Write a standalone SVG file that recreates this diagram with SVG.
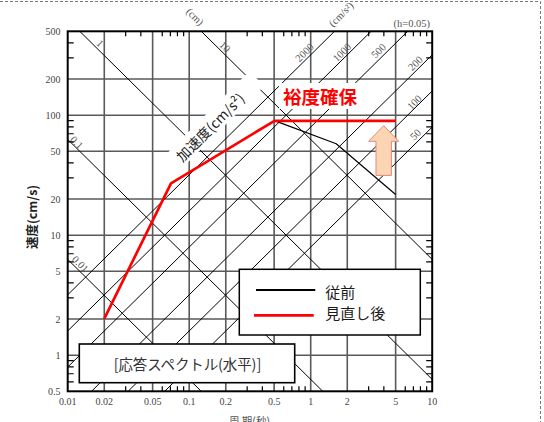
<svg xmlns="http://www.w3.org/2000/svg" width="544" height="422" viewBox="0 0 544 422">
<style>
.grid{stroke:#5a5a5a;stroke-width:1.6;fill:none}
.diag{stroke:#000;stroke-width:1;fill:none}
.tick{stroke:#000;stroke-width:1.2;fill:none}
.num{font-family:"Liberation Serif","Times New Roman",serif;font-size:10px;fill:#444}
.lbl{font-family:"Liberation Serif","Times New Roman",serif;font-size:10.5px;fill:#555}
.jp{font-family:"Noto Sans CJK JP","Noto Sans",sans-serif}
.wb{fill:#fff;stroke:none}
</style>
<rect width="544" height="422" fill="#fff"/>
<path d="M0 1.5H540.5V422" fill="none" stroke="#777" stroke-width="1" stroke-dasharray="3 2"/>

<g id="grid" class="grid">
<path d="M104.28 31.3V391.3M152.63 31.3V391.3M189.2 31.3V391.3M225.78 31.3V391.3M274.13 31.3V391.3M310.7 31.3V391.3M347.28 31.3V391.3M395.63 31.3V391.3"/>
<path d="M67.7 79.05H432.2M67.7 115.18H432.2M67.7 151.3H432.2M67.7 199.05H432.2M67.7 235.18H432.2M67.7 271.3H432.2M67.7 319.05H432.2M67.7 355.18H432.2"/>
</g>

<g id="connectors" class="diag">
<path d="M201.25 31.3L432.2 259.39M79.75 31.3L432.2 379.39M67.7 139.39L322.75 391.3M67.7 259.39L201.25 391.3"/>
<path d="M67.7 294.83L334.53 31.3M67.7 330.96L371.1 31.3M67.7 367.08L407.68 31.3M91.53 391.3L432.2 54.83M128.1 391.3L432.2 90.96M164.68 391.3L432.2 127.08"/>
</g>

<g id="accel-label">
<g transform="translate(168,168) rotate(-45)">
<rect class="wb" x="8" y="-11" width="118" height="21"/>
<text x="14" y="0.5" class="jp" font-size="14" fill="#222" dominant-baseline="central">加速度(cm/s²)</text>
</g>
</g>

<g id="margin-label">
<rect class="wb" x="279" y="83" width="83" height="26"/>
<text x="283" y="103.5" class="jp" font-size="18.5" font-weight="bold" fill="#f00">裕度確保</text>
</g>

<g id="line-labels" class="lbl" text-anchor="middle" dominant-baseline="central">
<text transform="translate(195,16.7) rotate(45)">(cm)</text>
<text transform="translate(100,43.3) rotate(45)">1</text>
<text transform="translate(225,46.7) rotate(45)">10</text>
<text transform="translate(76.7,142.5) rotate(45)">0.1</text>
<text transform="translate(80.3,264) rotate(45)">0.01</text>
<text transform="translate(304.5,52.5) rotate(-45)">2000</text>
<text transform="translate(342,52.5) rotate(-45)">1000</text>
<text transform="translate(378.7,50.8) rotate(-45)">500</text>
<text transform="translate(415.3,63.3) rotate(-45)">200</text>
<text transform="translate(414.5,102.5) rotate(-45)">100</text>
<text transform="translate(415.5,134.5) rotate(-45)">50</text>
<text transform="translate(330.5,25) rotate(-45)" text-anchor="start">(cm/s²)</text>
</g>
<text x="393.5" y="27" class="lbl" font-size="9.5">(h=0.05)</text>

<g id="curves" fill="none" stroke-linejoin="round">
<path d="M274.5 120.6L336.2 143.8L395.6 194.5" stroke="#000" stroke-width="1.2"/>
<path d="M104.3 318.7L171 183.3L274.5 120.8L396 120.8" stroke="#f00" stroke-width="2.7"/>
</g>

<g id="arrow">
<polygon points="383.7,125.7 398.7,141.3 391.4,141.3 391.4,175.4 376,175.4 376,141.3 368.6,141.3" fill="#fcd5b4" stroke="#e8857a" stroke-width="1"/>
</g>

<g id="frame">
<rect x="67.7" y="31.3" width="364.5" height="360" fill="none" stroke="#000" stroke-width="2"/>
<path class="tick" d="M125.67 31.3v5M140.85 31.3v5M162.25 31.3v5M170.38 31.3v5M177.43 31.3v5M183.64 31.3v5M247.17 31.3v5M262.35 31.3v5M283.75 31.3v5M291.88 31.3v5M298.93 31.3v5M305.14 31.3v5M368.67 31.3v5M383.85 31.3v5M405.25 31.3v5M413.38 31.3v5M420.43 31.3v5M426.64 31.3v5"/>
<path class="tick" d="M125.67 391.3v-5M140.85 391.3v-5M162.25 391.3v-5M170.38 391.3v-5M177.43 391.3v-5M183.64 391.3v-5M247.17 391.3v-5M262.35 391.3v-5M283.75 391.3v-5M291.88 391.3v-5M298.93 391.3v-5M305.14 391.3v-5M368.67 391.3v-5M383.85 391.3v-5M405.25 391.3v-5M413.38 391.3v-5M420.43 391.3v-5M426.64 391.3v-5"/>
<path class="tick" d="M67.7 42.93h6M67.7 57.92h6M67.7 120.67h6M67.7 126.81h6M67.7 133.76h6M67.7 141.8h6M67.7 162.93h6M67.7 177.92h6M67.7 240.67h6M67.7 246.81h6M67.7 253.76h6M67.7 261.8h6M67.7 282.93h6M67.7 297.92h6M67.7 360.67h6M67.7 366.81h6M67.7 373.76h6M67.7 381.8h6"/>
<path class="tick" d="M432.2 42.93h-6M432.2 57.92h-6M432.2 120.67h-6M432.2 126.81h-6M432.2 133.76h-6M432.2 141.8h-6M432.2 162.93h-6M432.2 177.92h-6M432.2 240.67h-6M432.2 246.81h-6M432.2 253.76h-6M432.2 261.8h-6M432.2 282.93h-6M432.2 297.92h-6M432.2 360.67h-6M432.2 366.81h-6M432.2 373.76h-6M432.2 381.8h-6"/>
</g>

<g id="legend">
<rect x="239.3" y="269.3" width="181" height="65.7" fill="#fff" stroke="#000" stroke-width="1.5"/>
<line x1="256" y1="290" x2="315.3" y2="290" stroke="#000" stroke-width="1.8"/>
<line x1="254" y1="315.3" x2="313.7" y2="315.3" stroke="#f00" stroke-width="2.7"/>
<text x="325.3" y="297.5" class="jp" font-size="15" fill="#1a1a1a">従前</text>
<text x="325.3" y="318.5" class="jp" font-size="15" fill="#1a1a1a">見直し後</text>
</g>

<g id="caption">
<rect x="79.3" y="344" width="215.4" height="38.7" fill="#fff" stroke="#000" stroke-width="1.6"/>
<text x="113.7" y="369.5" class="jp" font-size="14.5" fill="#333" textLength="147.6" lengthAdjust="spacing">[応答スペクトル(水平)]</text>
</g>

<g id="axis-labels" class="num">
<g text-anchor="end">
<text x="60.5" y="34.8">500</text>
<text x="60.5" y="82.5">200</text>
<text x="60.5" y="118.7">100</text>
<text x="60.5" y="154.8">50</text>
<text x="60.5" y="202.5">20</text>
<text x="60.5" y="238.7">10</text>
<text x="60.5" y="274.8">5</text>
<text x="60.5" y="322.5">2</text>
<text x="60.5" y="358.7">1</text>
<text x="60.5" y="394.8">0.5</text>
</g>
<g text-anchor="middle">
<text x="67.7" y="405">0.01</text>
<text x="104.28" y="405">0.02</text>
<text x="152.63" y="405">0.05</text>
<text x="189.2" y="405">0.1</text>
<text x="225.78" y="405">0.2</text>
<text x="274.13" y="405">0.5</text>
<text x="310.7" y="405">1</text>
<text x="347.28" y="405">2</text>
<text x="395.63" y="405">5</text>
<text x="432.2" y="405">10</text>
</g>
</g>
<text transform="translate(31.5,217) rotate(-90)" class="jp" font-size="12.5" font-weight="bold" fill="#222" text-anchor="middle" dominant-baseline="central">速度(cm/s)</text>
<text x="249.5" y="424.5" class="jp" font-size="10.5" fill="#555" text-anchor="middle">周 期(秒)</text>
</svg>
